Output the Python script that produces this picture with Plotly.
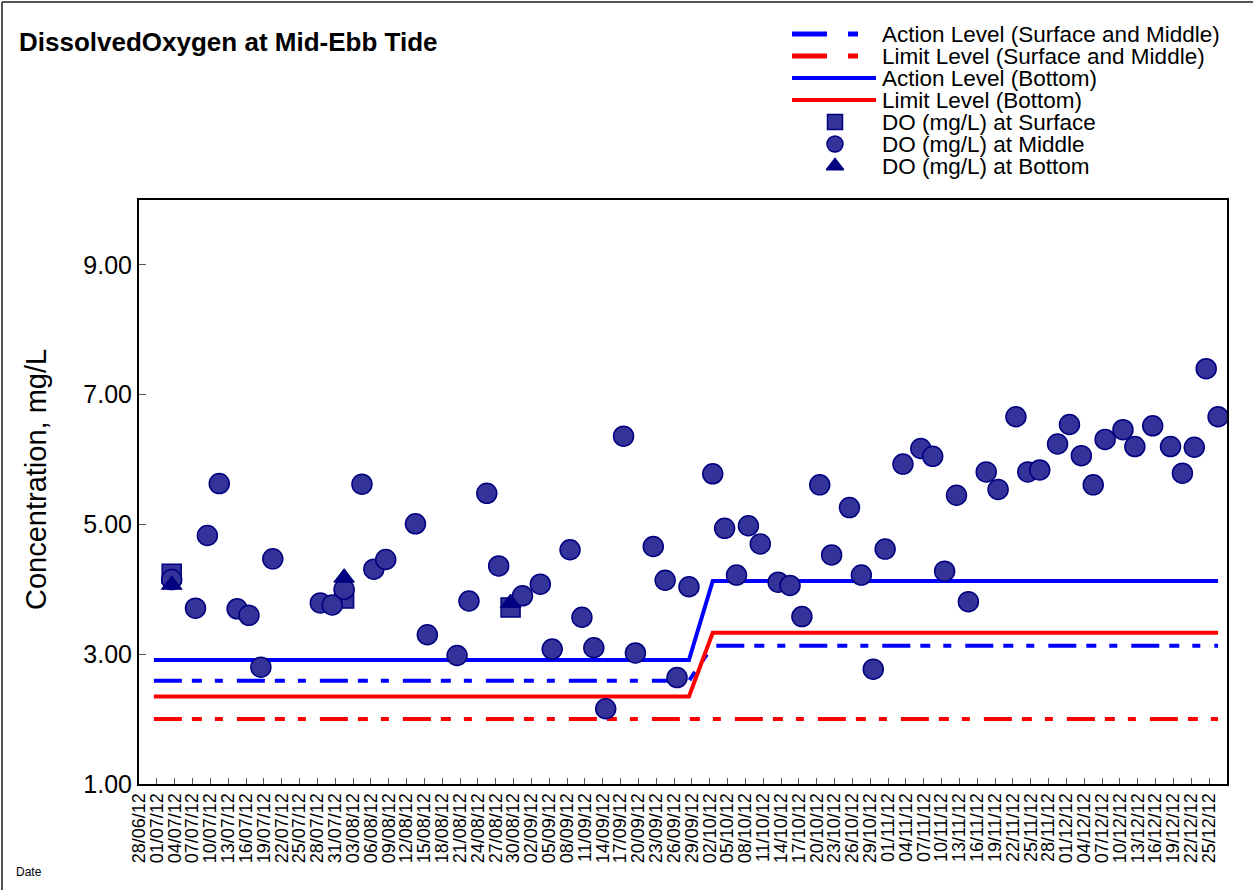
import plotly.graph_objects as go
import pandas as pd

# ---------------- data ----------------
mid_dates = ["2012-07-03", "2012-07-07", "2012-07-09", "2012-07-11", "2012-07-14", "2012-07-16",
             "2012-07-18", "2012-07-20", "2012-07-28", "2012-07-30", "2012-08-01", "2012-08-04",
             "2012-08-06", "2012-08-08", "2012-08-13", "2012-08-15", "2012-08-20", "2012-08-22",
             "2012-08-25", "2012-08-27", "2012-08-31", "2012-09-03", "2012-09-05", "2012-09-08",
             "2012-09-10", "2012-09-12", "2012-09-14", "2012-09-17", "2012-09-19", "2012-09-22",
             "2012-09-24", "2012-09-26", "2012-09-28", "2012-10-02", "2012-10-04", "2012-10-06",
             "2012-10-08", "2012-10-10", "2012-10-13", "2012-10-15", "2012-10-17", "2012-10-20",
             "2012-10-22", "2012-10-25", "2012-10-27", "2012-10-29", "2012-10-31", "2012-11-03",
             "2012-11-06", "2012-11-08", "2012-11-10", "2012-11-12", "2012-11-14", "2012-11-17",
             "2012-11-19", "2012-11-22", "2012-11-24", "2012-11-26", "2012-11-29", "2012-12-01",
             "2012-12-03", "2012-12-05", "2012-12-07", "2012-12-10", "2012-12-12", "2012-12-15",
             "2012-12-18", "2012-12-20", "2012-12-22", "2012-12-24", "2012-12-26"]
mid_values = [4.15, 3.71, 4.83, 5.63, 3.70, 3.60,
              2.80, 4.47, 3.79, 3.76, 4.00, 5.62,
              4.31, 4.46, 5.01, 3.30, 2.98, 3.82,
              5.48, 4.36, 3.90, 4.08, 3.08, 4.61,
              3.57, 3.10, 2.16, 6.36, 3.02, 4.66,
              4.14, 2.64, 4.04, 5.78, 4.94, 4.22,
              4.98, 4.70, 4.11, 4.06, 3.58, 5.61,
              4.53, 5.26, 4.22, 2.77, 4.62, 5.93,
              6.17, 6.05, 4.28, 5.45, 3.81, 5.81,
              5.54, 6.66, 5.81, 5.84, 6.24, 6.54,
              6.06, 5.61, 6.31, 6.46, 6.20, 6.52,
              6.20, 5.79, 6.19, 7.40, 6.66]

surf_dates = ["2012-07-03", "2012-08-01", "2012-08-29"]
surf_values = [4.24, 3.86, 3.72]
bot_dates = ["2012-07-03", "2012-08-01", "2012-08-29"]
bot_values = [4.07, 4.18, 3.79]

level_dates = ["2012-06-30", "2012-09-28", "2012-10-02", "2012-12-26"]
action_sm = [2.59, 2.59, 3.13, 3.13]
limit_sm = [2.00, 2.00, 2.00, 2.00]
action_b = [2.91, 2.91, 4.13, 4.13]
limit_b = [2.35, 2.35, 3.33, 3.33]

sample_time = pd.Timedelta(hours=12)  # samples taken around mid-day

tick_dates = pd.date_range("2012-06-28", "2012-12-25", freq="3D")
tick_text = [d.strftime("%d/%m/%y") for d in tick_dates]
y_ticks = [1, 3, 5, 7, 9]
y_text = ["1.00", "3.00", "5.00", "7.00", "9.00"]

legend_names = ["Action Level (Surface and Middle)", "Limit Level (Surface and Middle)",
                "Action Level (Bottom)", "Limit Level (Bottom)",
                "DO (mg/L) at Surface", "DO (mg/L) at Middle", "DO (mg/L) at Bottom"]

# ---------------- style ----------------
W, H = 1253, 890
PL, PR, PT, PB = 139, 1227, 200, 784
FONT = "Liberation Sans, Arial, sans-serif"
BLUE, RED = "#0000FF", "#FF0000"
FILL, EDGE = "#333399", "#000080"
DASH = "28px,10px,10px,13px,8px,14px"


def t(dates):
    return pd.to_datetime(dates) + sample_time


fig = go.Figure()

for ys, col, dash in [(action_sm, BLUE, DASH), (limit_sm, RED, DASH),
                      (action_b, BLUE, "solid"), (limit_b, RED, "solid")]:
    fig.add_trace(go.Scatter(x=t(level_dates), y=ys, mode="lines",
                             line=dict(color=col, width=4, dash=dash),
                             showlegend=False, hoverinfo="skip"))

fig.add_trace(go.Scatter(x=t(surf_dates), y=surf_values, mode="markers", showlegend=False,
                         marker=dict(symbol="square", size=19, color=FILL,
                                     line=dict(color=EDGE, width=1.5))))
fig.add_trace(go.Scatter(x=t(mid_dates), y=mid_values, mode="markers", showlegend=False,
                         marker=dict(symbol="circle", size=20, color=FILL,
                                     line=dict(color=EDGE, width=1.5))))
fig.add_trace(go.Scatter(x=t(bot_dates), y=bot_values, mode="markers", showlegend=False,
                         marker=dict(symbol="triangle-up", size=18, color=EDGE,
                                     line=dict(color=EDGE, width=1))))

# ---------------- custom legend (pixel-based overlay axes) ----------------
row_y = [34 + 22 * i for i in range(7)]
lx0, lx1, lxm = 792, 876, 835
for r, col in [(0, BLUE), (1, RED)]:
    for a, b in [(lx0, 827), (848, 858)]:
        fig.add_trace(go.Scatter(x=[a, b], y=[row_y[r]] * 2, mode="lines", xaxis="x2", yaxis="y2",
                                 line=dict(color=col, width=5), showlegend=False, hoverinfo="skip"))
for r, col in [(2, BLUE), (3, RED)]:
    fig.add_trace(go.Scatter(x=[lx0, lx1], y=[row_y[r]] * 2, mode="lines", xaxis="x2", yaxis="y2",
                             line=dict(color=col, width=4), showlegend=False, hoverinfo="skip"))
for r, sym, sz, col in [(4, "square", 15, FILL), (5, "circle", 16, FILL), (6, "triangle-up", 15, EDGE)]:
    fig.add_trace(go.Scatter(x=[lxm], y=[row_y[r]], mode="markers", xaxis="x2", yaxis="y2",
                             marker=dict(symbol=sym, size=sz, color=col, line=dict(color=EDGE, width=1.5)),
                             showlegend=False, hoverinfo="skip"))

annotations = []
for name, yy in zip(legend_names, row_y):
    annotations.append(dict(x=880, y=yy, xref="x2", yref="y2", text=name, showarrow=False,
                            xanchor="left", yanchor="middle",
                            font=dict(family=FONT, size=22.5, color="black")))

annotations.append(dict(x=17 / W, y=1 - 42 / H, xref="paper", yref="paper",
                        text="<b>DissolvedOxygen at Mid-Ebb Tide</b>", showarrow=False,
                        xanchor="left", yanchor="middle",
                        font=dict(family=FONT, size=26, color="black")))
annotations.append(dict(x=14 / W, y=1 - 872 / H, xref="paper", yref="paper", text="Date",
                        showarrow=False, xanchor="left", yanchor="middle",
                        font=dict(family=FONT, size=12, color="black")))
annotations.append(dict(x=36 / W, y=1 - 480 / H, xref="paper", yref="paper",
                        text="Concentration, mg/L", textangle=-90, showarrow=False,
                        xanchor="center", yanchor="middle",
                        font=dict(family=FONT, size=29, color="black")))

shapes = [
    dict(type="line", xref="paper", yref="paper", x0=2 / W, x1=2 / W, y0=0, y1=1 - 2 / H,
         line=dict(color="#555555", width=2)),
    dict(type="line", xref="paper", yref="paper", x0=2 / W, x1=1, y0=1 - 2 / H, y1=1 - 2 / H,
         line=dict(color="#555555", width=2)),
]

fig.update_layout(
    width=W, height=H,
    margin=dict(l=0, r=0, t=0, b=0),
    paper_bgcolor="white", plot_bgcolor="white",
    showlegend=False,
    font=dict(family=FONT, color="black"),
    xaxis=dict(type="date", domain=[PL / W, PR / W],
               range=[pd.Timestamp("2012-06-28"), pd.Timestamp("2012-12-28")],
               tickmode="array", tickvals=tick_dates, ticktext=tick_text, tickangle=-90,
               tickfont=dict(family=FONT, size=18, color="black"),
               ticks="inside", ticklen=6, tickcolor="#555555", tickwidth=1,
               showline=True, linecolor="black", linewidth=2, mirror=True,
               showgrid=False, zeroline=False, automargin=False),
    yaxis=dict(domain=[1 - PB / H, 1 - PT / H], range=[1, 10],
               tickmode="array", tickvals=y_ticks, ticktext=y_text,
               tickfont=dict(family=FONT, size=25, color="black"),
               ticks="inside", ticklen=7, tickcolor="#555555", tickwidth=1,
               showline=True, linecolor="black", linewidth=2, mirror=True,
               showgrid=False, zeroline=False, automargin=False),
    xaxis2=dict(domain=[780 / W, 1], range=[780, W], visible=False, fixedrange=True, anchor="y2"),
    yaxis2=dict(domain=[1 - 190 / H, 1 - 10 / H], range=[190, 10], visible=False,
                fixedrange=True, anchor="x2"),
    annotations=annotations,
    shapes=shapes,
)

fig.write_html("out.html", config={"displayModeBar": False},
               post_script="document.body.style.margin='0';document.body.style.overflow='hidden';")
